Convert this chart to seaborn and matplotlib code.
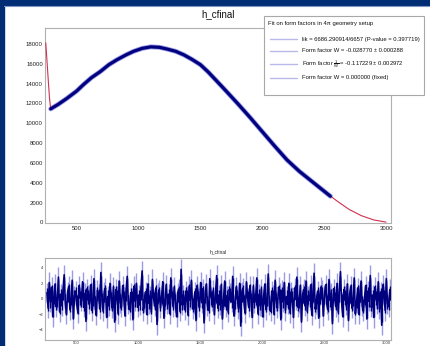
import numpy as np
import pandas as pd
import matplotlib
matplotlib.use("Agg")
import matplotlib.pyplot as plt
import seaborn as sns
from matplotlib import font_manager
from matplotlib.lines import Line2D
from matplotlib.patches import Rectangle
from matplotlib.ticker import MultipleLocator

# ---------------- data ----------------
fit_x = [250, 260, 270, 280, 290, 350, 420, 500, 555, 620, 690, 760, 825, 900, 960,
         1030, 1100, 1170, 1230, 1300, 1365, 1430, 1500, 1560, 1621, 1700, 1800, 1900,
         2000, 2100, 2200, 2300, 2400, 2500, 2600, 2700, 2800, 2900, 3000]
fit_y = [18100, 16300, 14400, 12600, 11450, 11900, 12500, 13250, 13900, 14600, 15200,
         15900, 16400, 16900, 17250, 17550, 17700, 17650, 17480, 17250, 16900, 16450,
         15900, 15200, 14400, 13350, 12000, 10600, 9150, 7700, 6300, 5150, 4150, 3150,
         2200, 1330, 690, 260, 40]

data_x = [290, 350, 420, 500, 555, 620, 690, 760, 825, 900, 960, 1030, 1100, 1170,
          1230, 1300, 1365, 1430, 1500, 1560, 1621, 1700, 1800, 1900, 2000, 2100,
          2200, 2300, 2400, 2500, 2550]
data_y = [11450, 11900, 12500, 13250, 13900, 14600, 15200, 15900, 16400, 16900, 17250,
          17550, 17700, 17650, 17480, 17250, 16900, 16450, 15900, 15200, 14400, 13350,
          12000, 10600, 9150, 7700, 6300, 5150, 4150, 3150, 2650]

residuals = [
    0.8, -1.2, 2.1, -0.4, 1.5, -2.3, 0.3, 1.9, -1.0, -0.2, 2.8, -1.7, 0.6, -0.9, 1.2, 3.1, -0.5, -2.0, 0.9, 1.6, -1.4, 0.1, 2.4, -2.6, 0.4, 1.0, -0.7, -1.8, 1.7, 0.2,
    -0.3, 2.2, -1.1, 0.7, -2.9, 1.3, 0.5, -0.6, 1.8, -1.5, 0.0, 2.6, -0.8, -2.1, 1.1, 0.6, -1.3, 3.4, -0.2, -1.6, 0.9, 1.4, -2.4, 0.3, -0.9, 2.0, -0.1, -1.2, 1.5, -3.0,
    1.2, 0.4, -1.9, 2.3, -0.5, -1.0, 1.7, 0.2, -2.2, 1.0, 2.9, -0.7, -1.4, 0.8, 0.1, -2.7, 1.6, -0.3, 2.0, -1.1, 0.5, -0.8, 1.3, 3.6, -1.5, -0.4, 0.9, -2.0, 1.9, -0.6,
    0.3, -1.7, 2.5, 0.0, -0.9, 1.4, -3.3, 0.7, 1.1, -1.2, 0.4, 2.2, -2.5, -0.1, 1.8, -0.7, 0.6, -1.9, 2.7, 0.2, -1.0, 1.5, -0.4, -2.3, 0.8, 1.2, -1.6, 3.8, -0.8, 0.5,
    -1.4, 1.0, 0.3, -2.1, 1.6, -0.2, 2.4, -1.3, -0.6, 0.9, -2.8, 1.7, 0.1, -1.1, 2.1, -0.5, 1.3, -3.1, 0.6, 1.9, -0.9, -1.5, 2.6, 0.2, -0.3, 1.1, -2.0, 0.7, 3.0, -1.2,
    0.5, -0.8, 1.8, -2.6, 0.0, 2.3, -1.0, 0.4, -1.7, 1.2, 0.8, -0.4, 2.9, -2.2, -0.6, 1.5, 0.3, -1.3, 2.0, -3.5, 0.9, 1.4, -0.7, -1.8, 2.2, 0.1, -1.1, 1.7, -0.2, -2.4,
    1.6, -0.5, 0.2, 2.7, -1.9, 0.6, -0.9, 1.3, -2.3, 0.4, 1.9, -1.4, 0.0, 3.2, -0.8, -1.6, 1.0, 0.5, -2.0, 2.4, -0.3, -1.2, 1.5, 0.7, -2.7, 1.1, -0.4, 2.1, -1.5, 0.3,
    -0.7, 2.0, -1.8, 0.9, 0.2, -2.4, 1.4, -0.1, 2.8, -1.1, -0.5, 1.7, -3.0, 0.6, 1.2, -0.9, 2.3, -1.6, 0.4, -0.2, 1.8, -2.1, 0.8, 3.3, -1.3, -0.6, 1.0, -2.5, 0.5, 1.5,
    1.1, -2.2, 0.4, 1.8, -0.6, -1.4, 2.5, -0.2, 0.7, -3.2, 1.3, 0.0, -1.0, 2.0, -1.7, 0.9, 3.5, -0.4, -2.3, 1.2, 0.3, -0.8, 1.9, -2.8, 0.6, 1.6, -1.2, -0.1, 2.7, -1.9,
    -0.5, 1.4, -2.0, 0.8, 2.3, -0.9, -1.6, 0.2, 1.7, -2.6, 1.0, -0.3, 3.0, -1.1, 0.5, -2.4, 1.5, 0.1, -0.7, 2.2, -1.3, 0.9, -3.4, 1.8, 0.4, -1.5, 2.6, -0.6, -1.0, 1.2,
]
res_range = (260, 3030)

x_ticks = [500, 1000, 1500, 2000, 2500, 3000]
y_ticks = [0, 2000, 4000, 6000, 8000, 10000, 12000, 14000, 16000, 18000]
res_y_ticks = [-4, -2, 0, 2, 4]

title = "h_cfinal"
legend_title = "Fit on form factors in 4\u03c0 geometry setup"
legend_entries = [
    "lik = 6686.290914/6657 (P-value = 0.397719)",
    "Form factor W = -0.028770 \u00b1 0.000288",
    r"Form factor $\frac{1}{W}$ = -0.117229 $\pm$ 0.002972",
    "Form factor W = 0.000000 (fixed)",
]

# ---------------- style ----------------
sns.set_theme(style="white")
names = {f.name for f in font_manager.fontManager.ttflist}
fam = "Liberation Sans Narrow" if "Liberation Sans Narrow" in names else "Liberation Sans"
plt.rcParams["font.family"] = [fam, "DejaVu Sans"]
plt.rcParams["mathtext.fontset"] = "custom"
plt.rcParams["mathtext.rm"] = fam
plt.rcParams["mathtext.it"] = fam

W, H = 430, 346
fig = plt.figure(figsize=(W / 100, H / 100), dpi=100)
fig.patch.set_facecolor("white")

def fx(px):
    return px / W

def fy(py):
    return 1 - py / H

# ROOT canvas border
border = "#002d74"
fig.add_artist(Rectangle((0, 0), fx(4), 1, transform=fig.transFigure, color=border, zorder=0))
fig.add_artist(Rectangle((0, fy(5)), 1, 5 / H, transform=fig.transFigure, color=border, zorder=0))
fig.add_artist(Line2D([fx(4), 1], [fy(5.5), fy(5.5)], transform=fig.transFigure,
                      color="#7f95c8", lw=0.8, zorder=1))

frame_col = "#b0b0b0"
navy = "#00007f"
light = "#9a9ae6"
red = "#d03050"

# ---------------- main pad ----------------
ax = fig.add_axes([fx(45), fy(222.5), fx(391) - fx(45), fy(28) - fy(222.5)])
dfit = pd.DataFrame({"x": fit_x, "y": fit_y})
ddat = pd.DataFrame({"x": data_x, "y": data_y})
sns.lineplot(data=ddat, x="x", y="y", ax=ax, color=light, lw=3.5, estimator=None, sort=False, zorder=2)
sns.lineplot(data=dfit, x="x", y="y", ax=ax, color=red, lw=0.8, estimator=None, sort=False, zorder=3)
sns.lineplot(data=ddat, x="x", y="y", ax=ax, color=navy, lw=2.3, estimator=None, sort=False, zorder=4)
ax.set_xlim(244, 3040)
ax.set_ylim(0, 19600)
ax.set_xticks(x_ticks)
ax.set_yticks(y_ticks)
ax.xaxis.set_minor_locator(MultipleLocator(100))
ax.yaxis.set_minor_locator(MultipleLocator(400))
ax.set_xlabel("")
ax.set_ylabel("")
for s in ax.spines.values():
    s.set_color(frame_col)
    s.set_linewidth(0.8)
ax.tick_params(axis="both", which="both", direction="in", colors=frame_col,
               labelcolor="#222222", labelsize=4.3, top=False, right=False, width=0.6)
ax.tick_params(axis="y", which="major", length=7.0, pad=1.5)
ax.tick_params(axis="y", which="minor", length=3.5)
ax.tick_params(axis="x", which="major", length=4.0, pad=2.5)
ax.tick_params(axis="x", which="minor", length=2.2)
fig.text(fx(218), fy(14), title, ha="center", va="center", fontsize=7.0, color="#111111")

# ---------------- legend box ----------------
lx0, ly0, lx1, ly1 = 264, 16, 424, 95
fig.add_artist(Rectangle((fx(lx0), fy(ly1)), fx(lx1) - fx(lx0), fy(ly0) - fy(ly1),
                         transform=fig.transFigure, facecolor="white",
                         edgecolor="#a8a8a8", lw=0.8, zorder=10))
fig.text(fx(268), fy(24), legend_title, ha="left", va="center", fontsize=4.25,
         color="#111111", zorder=11)
entry_y = [39, 51, 64, 78]
for yy, txt in zip(entry_y, legend_entries):
    fig.add_artist(Line2D([fx(270), fx(297)], [fy(yy), fy(yy)], transform=fig.transFigure,
                          color="#b8b8ea", lw=1.0, zorder=11))
    fig.text(fx(302), fy(yy), txt, ha="left", va="center", fontsize=4.25,
             color="#111111", zorder=11)

# ---------------- residual pad ----------------
rax = fig.add_axes([fx(45), fy(340), fx(391) - fx(45), fy(257.7) - fy(340)])
rx = np.linspace(res_range[0], res_range[1], len(residuals))
dres = pd.DataFrame({"x": rx, "r": residuals})
rax.vlines(dres["x"], dres["r"] - 1.3, dres["r"] + 1.3, color=light, lw=1.0, zorder=2)
rax.vlines(dres["x"], dres["r"] * 0.6 - 0.9, dres["r"] * 0.6 + 0.9, color=navy, lw=1.0, zorder=3)
sns.lineplot(data=dres, x="x", y="r", ax=rax, color=navy, lw=1.2, estimator=None, sort=False, zorder=4)
rax.set_xlim(244, 3040)
rax.set_ylim(-5.3, 5.3)
rax.set_xticks(x_ticks)
rax.set_yticks(res_y_ticks)
rax.xaxis.set_minor_locator(MultipleLocator(100))
rax.yaxis.set_minor_locator(MultipleLocator(0.5))
rax.set_xlabel("")
rax.set_ylabel("")
for s in rax.spines.values():
    s.set_color(frame_col)
    s.set_linewidth(0.8)
rax.tick_params(axis="both", which="both", direction="in", colors=frame_col,
                labelcolor="#333333", labelsize=3.0, top=False, right=False, width=0.5)
rax.tick_params(axis="y", which="major", length=4.5, pad=1.5)
rax.tick_params(axis="y", which="minor", length=2.2)
rax.tick_params(axis="x", which="major", length=2.5, pad=1.0)
rax.tick_params(axis="x", which="minor", length=1.5)
fig.text(fx(218), fy(252), title, ha="center", va="center", fontsize=3.5, color="#222222")

fig.savefig("out.png", dpi=100)
